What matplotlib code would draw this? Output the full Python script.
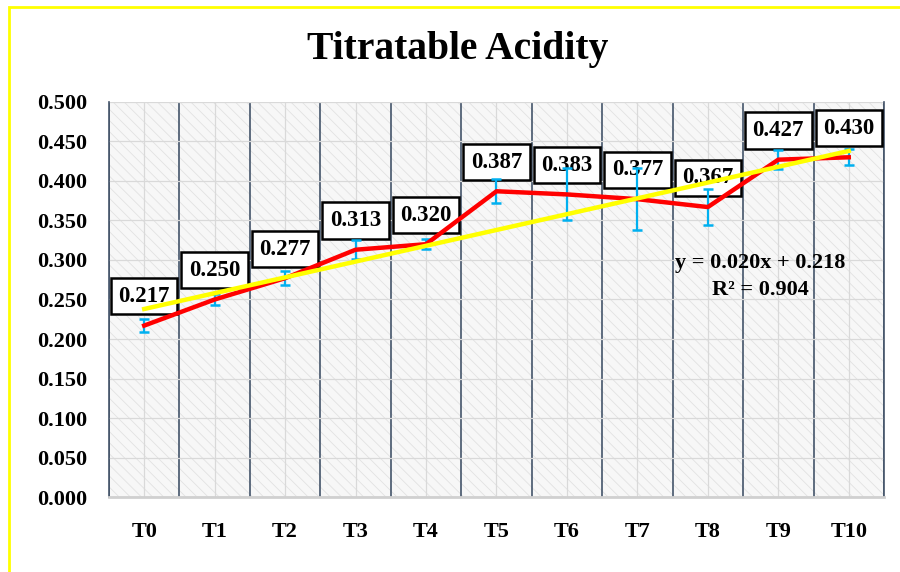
import numpy as np
import matplotlib
matplotlib.use('Agg')
import matplotlib.pyplot as plt
from matplotlib.patches import Rectangle

# data
treatments = ['T0', 'T1', 'T2', 'T3', 'T4', 'T5', 'T6', 'T7', 'T8', 'T9', 'T10']
acidity = [0.217, 0.250, 0.277, 0.313, 0.320, 0.387, 0.383, 0.377, 0.367, 0.427, 0.430]
errors = [0.008, 0.007, 0.009, 0.012, 0.006, 0.015, 0.033, 0.039, 0.023, 0.012, 0.010]
yticks = [0.0, 0.05, 0.10, 0.15, 0.20, 0.25, 0.30, 0.35, 0.40, 0.45, 0.50]
# trendline as printed on the chart (x counted from 1)
trend_slope = 0.020
trend_intercept = 0.218
trend_r2 = 0.904

plt.rcParams['font.family'] = ['Liberation Serif', 'DejaVu Serif']
plt.rcParams['font.weight'] = 'bold'
plt.rcParams['hatch.linewidth'] = 0.6

fig = plt.figure(figsize=(9, 5.72), dpi=100)
ax = fig.add_axes([0.1211, 0.1311, 0.8611, 0.6906])

x = np.arange(len(treatments))

# hatched plot area background
bg = Rectangle((0, 0), 1, 1, transform=ax.transAxes, facecolor='#f7f7f7',
               edgecolor='#e2e2e2', hatch='\\\\\\', lw=0, zorder=0)
ax.add_patch(bg)

ax.set_xlim(-0.5, len(treatments) - 0.5)
ax.set_ylim(0, 0.5)
ax.set_xticks(x)
ax.set_xticklabels(treatments)
ax.set_xticks(np.arange(-0.5, len(treatments), 1.0), minor=True)
ax.set_yticks(yticks)
ax.set_yticklabels(['%.3f' % v for v in yticks])

ax.set_axisbelow(True)
ax.grid(axis='y', which='major', color='#d9d9d9', lw=0.9)
ax.grid(axis='x', which='major', color='#d9d9d9', lw=0.9)
ax.grid(axis='x', which='minor', color='#44546a', lw=1.2)
ax.tick_params(axis='both', which='both', length=0, labelsize=16)
ax.tick_params(axis='y', pad=16)
ax.tick_params(axis='x', pad=18)

ax.spines['top'].set_visible(False)
ax.spines['left'].set_color('#44546a')
ax.spines['left'].set_linewidth(1.2)
ax.spines['right'].set_color('#44546a')
ax.spines['right'].set_linewidth(1.2)
ax.spines['bottom'].set_color('#d0d0d0')
ax.spines['bottom'].set_linewidth(2)

# data labels
for xi, v in zip(x, acidity):
    ax.annotate('%.3f' % v, (xi, v), xytext=(0, 21), textcoords='offset points',
                ha='center', va='center', fontsize=16.5, fontweight='bold', zorder=3,
                bbox=dict(boxstyle='square,pad=0.33', fc='white', ec='black', lw=1.8))

ax.errorbar(x, acidity, yerr=errors, fmt='none', ecolor='#00b0f0',
            elinewidth=1.6, capsize=3.8, capthick=1.8, zorder=4)
ax.plot(x, acidity, color='#ff0000', lw=3.2, zorder=5)

fit = trend_slope * (x + 1) + trend_intercept
ax.plot(x, fit, color='#ffff00', lw=3.2, zorder=6)

ax.text(8.75, 0.296, 'y = %.3fx + %.3f' % (trend_slope, trend_intercept), ha='center',
        va='center', fontsize=16, fontweight='bold', zorder=7)
ax.text(8.75, 0.262, 'R² = %.3f' % trend_r2, ha='center', va='center',
        fontsize=16, fontweight='bold', zorder=7)

fig.text(458 / 900, 1 - 50 / 572, 'Titratable Acidity', ha='center', va='center',
         fontsize=28.5, fontweight='bold')

# yellow outer border
fig.add_artist(Rectangle((9 / 900, -0.1), 1.2, 1 - 6.5 / 572 + 0.1, transform=fig.transFigure,
                         fill=False, ec='#ffff00', lw=2, clip_on=False))

fig.savefig('out.png', dpi=100)
